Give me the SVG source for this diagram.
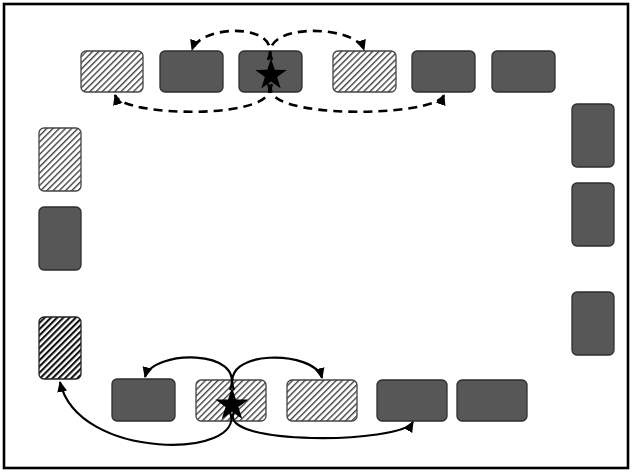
<svg xmlns="http://www.w3.org/2000/svg" width="632" height="472" viewBox="0 0 632 472">
<defs>
<style>
.dark{fill:#575757;stroke:#2e2e2e;stroke-width:1.3}
.light{fill:url(#hl);stroke:#444;stroke-width:1.3}
.heavy{fill:url(#hd);stroke:#222;stroke-width:1.3}
.dash{fill:none;stroke:#000;stroke-width:2.6;stroke-dasharray:9,6;marker-end:url(#ah)}
.solid{fill:none;stroke:#000;stroke-width:2.2;marker-end:url(#ah)}
</style>
<pattern id="hl" patternUnits="userSpaceOnUse" width="4.4" height="4.4" patternTransform="rotate(45)">
<rect width="4.4" height="4.4" fill="#fff"/>
<line x1="0" y1="0" x2="0" y2="4.4" stroke="#444" stroke-width="2.8"/>
</pattern>
<pattern id="hd" patternUnits="userSpaceOnUse" width="4.4" height="4.4" patternTransform="rotate(45)">
<rect width="4.4" height="4.4" fill="#fff"/>
<line x1="0" y1="0" x2="0" y2="4.4" stroke="#111" stroke-width="4.2"/>
</pattern>
<marker id="ah" markerUnits="userSpaceOnUse" markerWidth="11" markerHeight="11" viewBox="0 0 10 10" refX="9" refY="5" orient="auto">
<path d="M0,0.5 L10,5 L0,9.5 Z" fill="#000"/>
</marker>
<polygon id="star" points="0,-18 4.11,-5.66 17.12,-5.56 6.66,2.16 10.58,14.56 0,7 -10.58,14.56 -6.66,2.16 -17.12,-5.56 -4.11,-5.66" fill="#000"/>
</defs>
<rect x="4" y="4" width="624" height="464" fill="#fff" stroke="#000" stroke-width="2.6"/>
<g id="top-row">
<rect id="t1" class="light" x="81" y="51" width="62" height="41" rx="5"/>
<rect id="t2" class="dark" x="160" y="51" width="63" height="41" rx="5"/>
<rect id="t3" class="dark" x="239" y="51" width="63" height="41" rx="5"/>
<rect id="t4" class="light" x="333" y="51" width="63" height="41" rx="5"/>
<rect id="t5" class="dark" x="412" y="51" width="63" height="41" rx="5"/>
<rect id="t6" class="dark" x="492" y="51" width="63" height="41" rx="5"/>
</g>
<g id="left-col">
<rect id="l1" class="light" x="39" y="128" width="42" height="63" rx="5"/>
<rect id="l2" class="dark" x="39" y="207" width="42" height="63" rx="5"/>
<rect id="l3" class="heavy" x="39" y="317" width="42" height="62" rx="5"/>
</g>
<g id="right-col">
<rect id="r1" class="dark" x="572" y="104" width="42" height="63" rx="5"/>
<rect id="r2" class="dark" x="572" y="183" width="42" height="63" rx="5"/>
<rect id="r3" class="dark" x="572" y="292" width="42" height="63" rx="5"/>
</g>
<g id="bottom-row">
<rect id="b1" class="dark" x="112" y="379" width="63" height="42" rx="5"/>
<rect id="b2" class="light" x="196" y="380" width="70" height="41" rx="5"/>
<rect id="b3" class="light" x="287" y="380" width="70" height="41" rx="5"/>
<rect id="b4" class="dark" x="377" y="380" width="70" height="41" rx="5"/>
<rect id="b5" class="dark" x="457" y="380" width="70" height="41" rx="5"/>
</g>
<g id="connectors">
<path class="dash" d="M268,60 C284,22 200,24 192,50"/>
<path class="dash" d="M272,60 C256,22 356,24 364,50"/>
<path class="dash" d="M268,84 C286,120 122,118 115,95"/>
<path class="dash" d="M272,84 C254,120 436,118 444,95"/>
<path class="solid" d="M230,390 C246,348 152,350 145,377"/>
<path class="solid" d="M234,390 C218,348 315,350 322,378"/>
<path class="solid" d="M230,412 C248,458 78,462 60,382"/>
<path class="solid" d="M234,412 C216,446 400,444 413,422"/>
</g>
<g id="stars">
<use href="#star" transform="translate(271,75) scale(0.92)"/>
<use href="#star" transform="translate(232,405) scale(0.97)"/>
</g>
</svg>
